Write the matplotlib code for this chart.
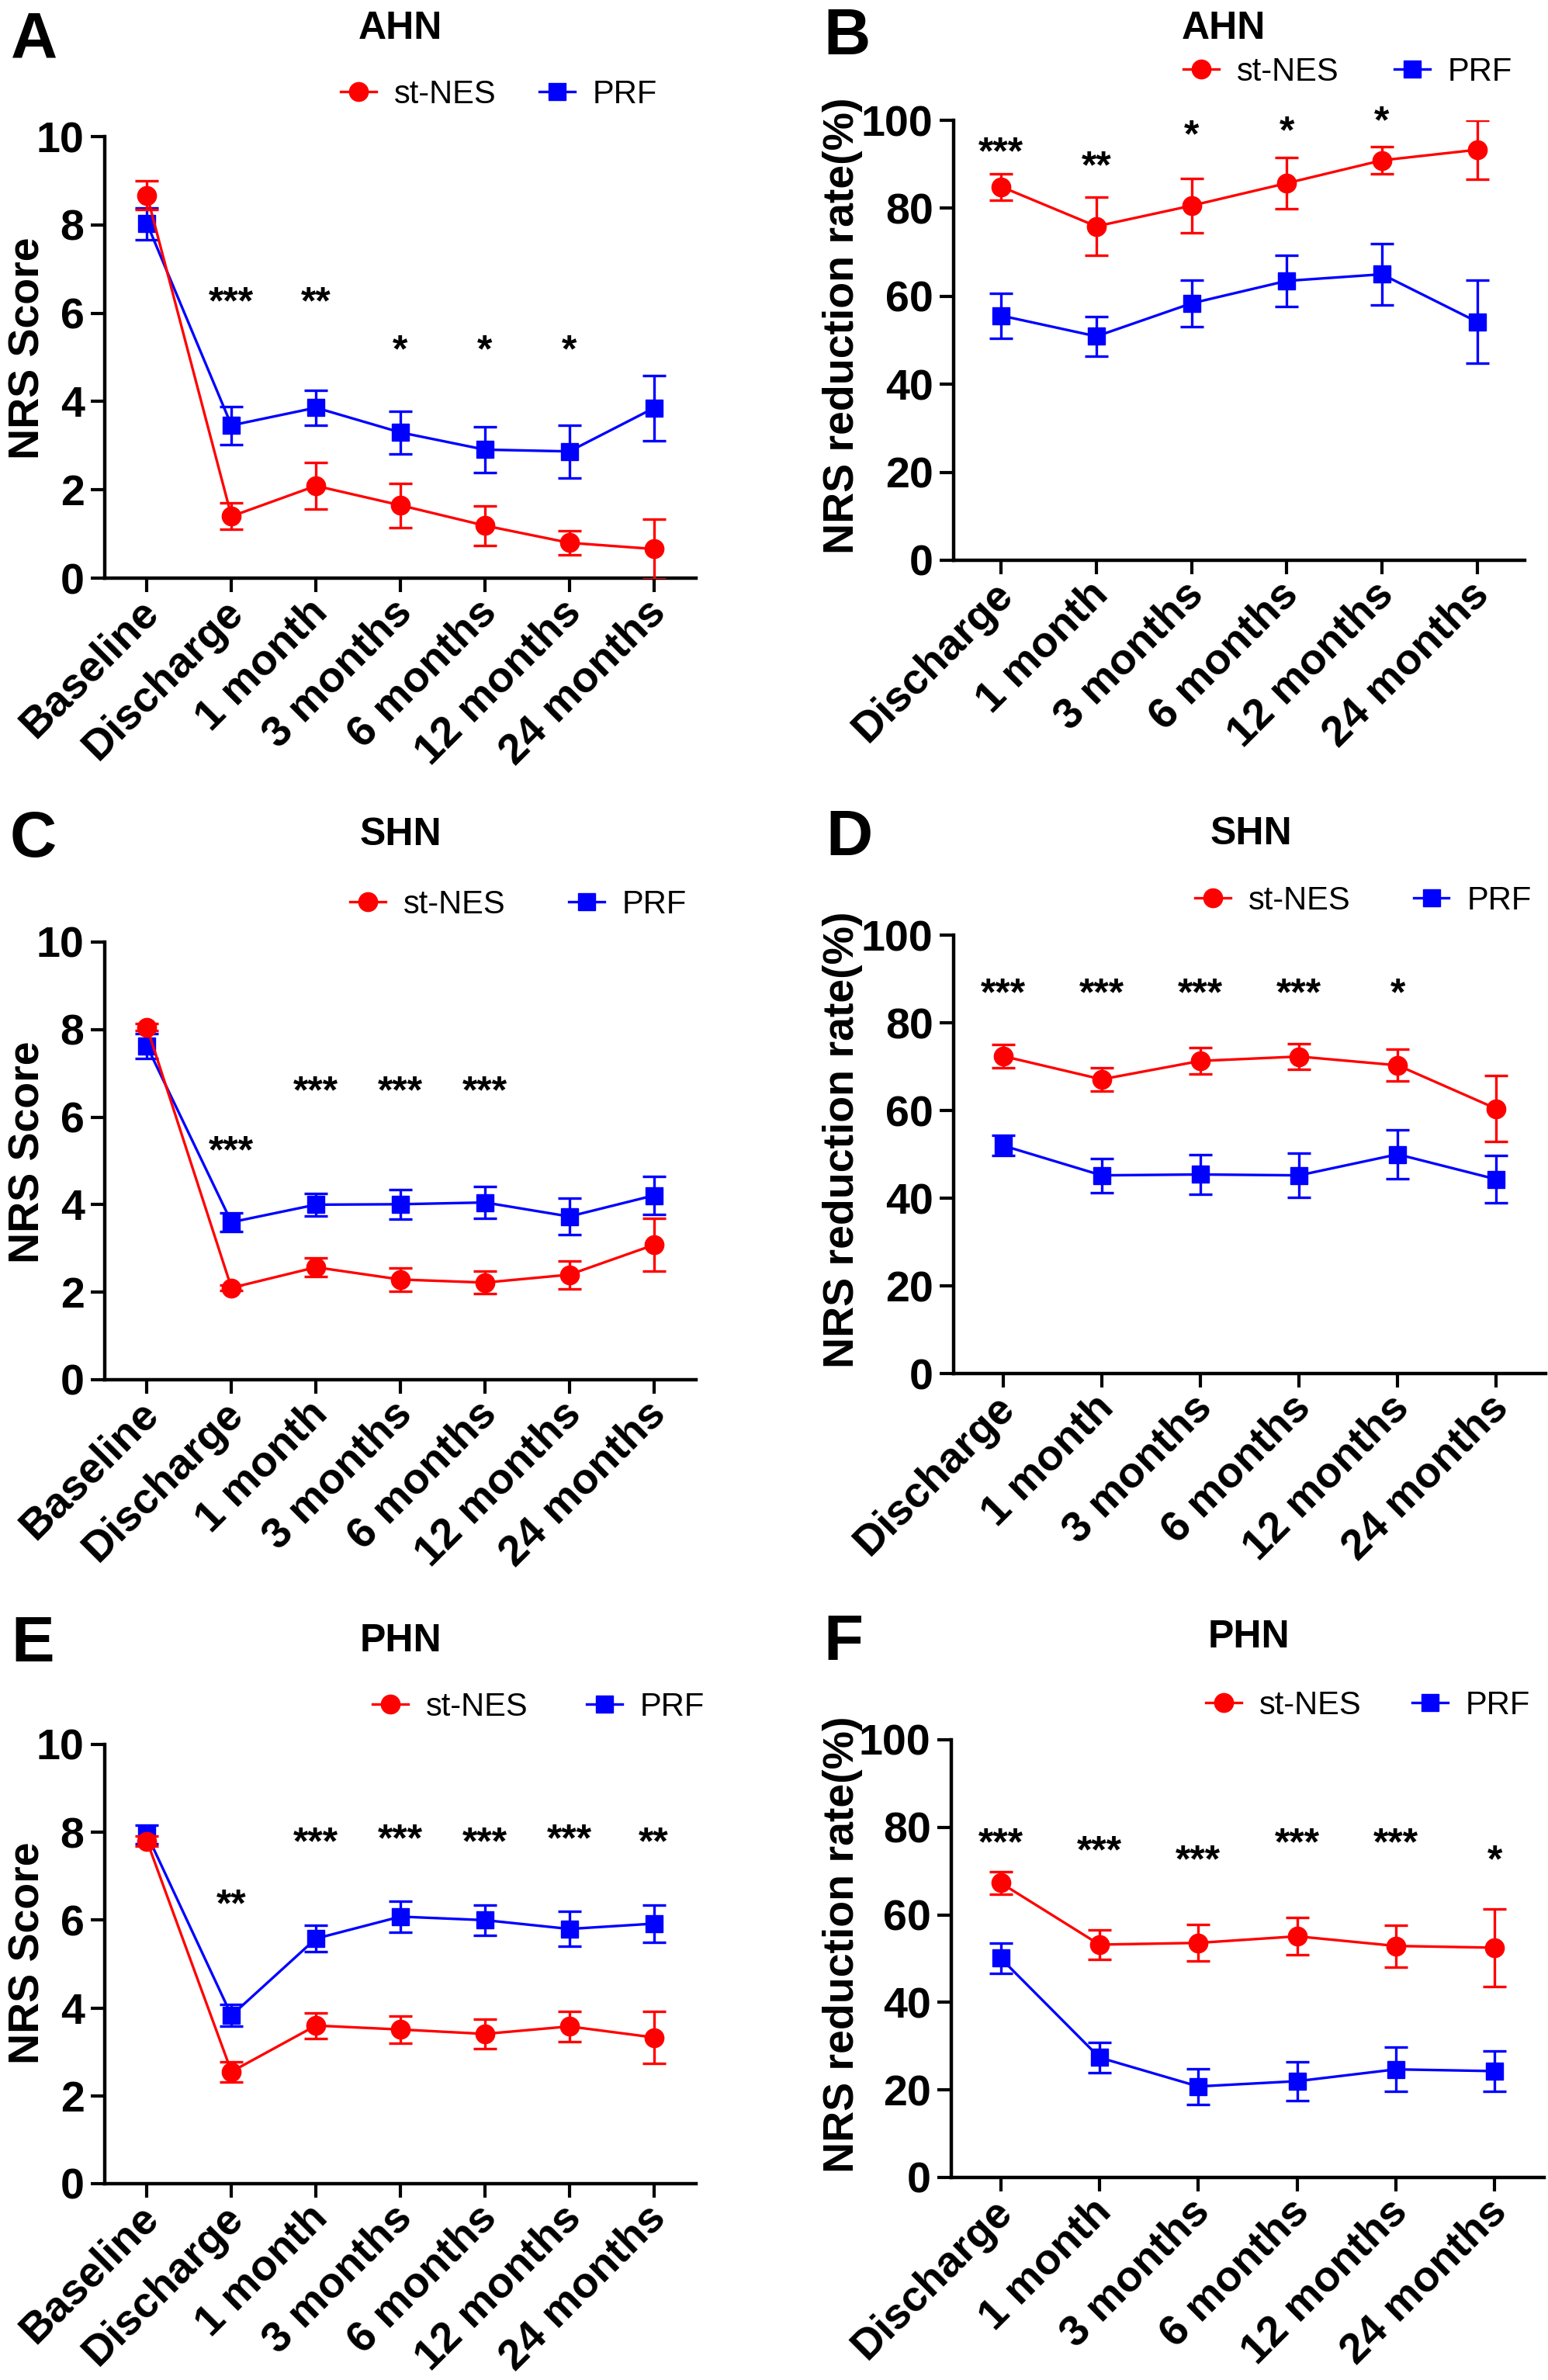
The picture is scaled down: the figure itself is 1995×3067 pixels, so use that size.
import matplotlib
matplotlib.use('Agg')
import matplotlib.pyplot as plt
import matplotlib.transforms as mtransforms

plt.rcParams['font.family'] = ['Liberation Sans', 'DejaVu Sans']

# ---- data -------------------------------------------------------------
score_labels = ['Baseline', 'Discharge', '1 month', '3 months', '6 months', '12 months', '24 months']
rate_labels = score_labels[1:]

# A: AHN, NRS score
ahn_score_nes = [8.67, 1.40, 2.09, 1.65, 1.19, 0.80, 0.66]
ahn_score_nes_err = [0.33, 0.30, 0.53, 0.50, 0.45, 0.28, 0.67]
ahn_score_prf = [8.03, 3.46, 3.86, 3.30, 2.91, 2.87, 3.85]
ahn_score_prf_err = [0.36, 0.43, 0.40, 0.48, 0.52, 0.60, 0.74]
ahn_score_sig = ['', '***', '**', '*', '*', '*', '']
ahn_score_sig_y = [0, 6.5, 6.5, 5.4, 5.4, 5.4, 0]

# B: AHN, reduction rate
ahn_rate_nes = [84.9, 75.9, 80.6, 85.7, 90.9, 93.3]
ahn_rate_nes_err = [3.0, 6.6, 6.2, 5.8, 3.1, 6.7]
ahn_rate_prf = [55.6, 50.9, 58.4, 63.5, 65.0, 54.2]
ahn_rate_prf_err = [5.1, 4.5, 5.3, 5.9, 7.0, 9.4]
ahn_rate_sig = ['***', '**', '*', '*', '*', '']
ahn_rate_sig_y = [95.1, 92.0, 99.1, 99.9, 102.3, 0]

# C: SHN, NRS score
shn_score_nes = [8.05, 2.10, 2.57, 2.29, 2.22, 2.40, 3.08]
shn_score_nes_err = [0.08, 0.06, 0.22, 0.26, 0.26, 0.32, 0.60]
shn_score_prf = [7.62, 3.60, 4.00, 4.01, 4.05, 3.73, 4.21]
shn_score_prf_err = [0.28, 0.21, 0.26, 0.34, 0.37, 0.42, 0.44]
shn_score_sig = ['', '***', '***', '***', '***', '', '']
shn_score_sig_y = [0, 5.48, 6.84, 6.84, 6.84, 0, 0]

# D: SHN, reduction rate
shn_rate_nes = [72.4, 67.1, 71.3, 72.3, 70.3, 60.4]
shn_rate_nes_err = [2.7, 2.6, 3.0, 3.0, 3.6, 7.5]
shn_rate_prf = [52.0, 45.2, 45.4, 45.2, 50.0, 44.3]
shn_rate_prf_err = [2.3, 3.9, 4.5, 5.0, 5.6, 5.4]
shn_rate_sig = ['***', '***', '***', '***', '*', '']
shn_rate_sig_y = [89.2, 89.2, 89.2, 89.2, 89.2, 0]

# E: PHN, NRS score
phn_score_nes = [7.80, 2.55, 3.60, 3.51, 3.41, 3.58, 3.33]
phn_score_nes_err = [0.12, 0.23, 0.29, 0.31, 0.33, 0.35, 0.60]
phn_score_prf = [7.95, 3.83, 5.58, 6.08, 6.00, 5.80, 5.92]
phn_score_prf_err = [0.22, 0.25, 0.30, 0.35, 0.35, 0.40, 0.43]
phn_score_sig = ['', '**', '***', '***', '***', '***', '**']
phn_score_sig_y = [0, 6.6, 8.02, 8.08, 8.02, 8.08, 8.02]

# F: PHN, reduction rate
phn_rate_nes = [67.3, 53.2, 53.6, 55.1, 52.9, 52.5]
phn_rate_nes_err = [2.5, 3.4, 4.2, 4.3, 4.8, 8.8]
phn_rate_prf = [50.1, 27.4, 20.8, 22.0, 24.7, 24.3]
phn_rate_prf_err = [3.4, 3.5, 4.1, 4.5, 5.1, 4.6]
phn_rate_sig = ['***', '***', '***', '***', '***', '*']
phn_rate_sig_y = [78.8, 77.0, 75.0, 78.8, 78.8, 75.0]

# ---- layout (pixels of the 1995x3067 canvas) ----------------------------
W, H = 1995, 3067
RED = '#ff0000'
BLUE = '#0000ff'
SIG_FS = 36

fig = plt.figure(figsize=(W / 100, H / 100), dpi=100)

# nudge the rotated x labels so their ends sit under the ticks
label_shift = mtransforms.ScaledTranslation(-8 / 72, 6 / 72, fig.dpi_scale_trans)


def px_rect(left, top, right, bottom):
    return [left / W, 1 - bottom / H, (right - left) / W, (bottom - top) / H]


def draw_panel(rect, labels, nes, nes_err, prf, prf_err, sig, sig_y, ymax,
               ylabel, ylabel_xy, letter, letter_xy, title, title_xy,
               legend_xy, colspace):
    ax = fig.add_axes(px_rect(*rect))
    x = list(range(len(labels)))

    ax.errorbar(x, prf, yerr=prf_err, fmt='none', ecolor=BLUE,
                elinewidth=2.4, capsize=11, capthick=2.4, zorder=2)
    ax.plot(x, prf, '-s', color=BLUE, lw=2.4, ms=16.5, label='PRF', zorder=3)
    ax.errorbar(x, nes, yerr=nes_err, fmt='none', ecolor=RED,
                elinewidth=2.4, capsize=11, capthick=2.4, zorder=4)
    ax.plot(x, nes, '-o', color=RED, lw=2.4, ms=17.5, label='st-NES', zorder=5)

    for xi, s, yi in zip(x, sig, sig_y):
        if s:
            ax.annotate(s, (xi, yi), xytext=(0, -0.58 * SIG_FS),
                        textcoords='offset points', ha='center', va='baseline',
                        fontsize=SIG_FS, fontweight='bold', annotation_clip=False)

    ax.set_xlim(-0.5, len(labels) - 0.5)
    ax.set_ylim(0, ymax)
    ax.set_yticks([ymax * i / 5 for i in range(6)])
    ax.set_yticklabels([f'{ymax * i // 5}' for i in range(6)])
    ax.set_xticks(x)
    ax.set_xticklabels(labels, rotation=45, ha='right', rotation_mode='anchor')

    for side in ['top', 'right']:
        ax.spines[side].set_visible(False)
    for side in ['left', 'bottom']:
        ax.spines[side].set_linewidth(3.2)
    ax.tick_params(axis='both', direction='out', length=13, width=3,
                   labelsize=40, pad=6)
    for t in ax.get_xticklabels() + ax.get_yticklabels():
        t.set_fontweight('bold')
    for t in ax.get_xticklabels():
        t.set_transform(t.get_transform() + label_shift)

    ax.set_ylabel(ylabel, fontsize=40, fontweight='bold')
    ax.yaxis.set_label_coords(ylabel_xy[0] / W, 1 - ylabel_xy[1] / H,
                              transform=fig.transFigure)

    h, l = ax.get_legend_handles_labels()
    ax.legend(h[::-1], l[::-1], loc='center', ncol=2, frameon=False, fontsize=30,
              bbox_to_anchor=(legend_xy[0] / W, 1 - legend_xy[1] / H),
              bbox_transform=fig.transFigure, handlelength=1.1,
              handletextpad=0.55, columnspacing=colspace, borderpad=0)

    fig.text(letter_xy[0] / W, 1 - letter_xy[1] / H, letter, fontsize=60,
             fontweight='bold', ha='left', va='baseline')
    fig.text(title_xy[0] / W, 1 - title_xy[1] / H, title, fontsize=36,
             fontweight='bold', ha='center', va='baseline')
    return ax


score_axis = 'NRS Score'
rate_axis = 'NRS reduction rate(%)'

draw_panel((135, 176, 897, 745), score_labels, ahn_score_nes, ahn_score_nes_err,
           ahn_score_prf, ahn_score_prf_err, ahn_score_sig, ahn_score_sig_y, 10,
           score_axis, (63, 449), 'A', (14, 74), 'AHN', (516, 50), (643, 122), 1.34)
draw_panel((1229, 155, 1965, 722), rate_labels, ahn_rate_nes, ahn_rate_nes_err,
           ahn_rate_prf, ahn_rate_prf_err, ahn_rate_sig, ahn_rate_sig_y, 100,
           rate_axis, (1112, 420), 'B', (1061, 70), 'AHN', (1577, 50), (1737, 93), 1.73)
draw_panel((135, 1214, 897, 1778), score_labels, shn_score_nes, shn_score_nes_err,
           shn_score_prf, shn_score_prf_err, shn_score_sig, shn_score_sig_y, 10,
           score_axis, (63, 1485), 'C', (13, 1104), 'SHN', (516, 1089), (668, 1166), 1.97)
draw_panel((1229, 1205, 1992, 1770), rate_labels, shn_rate_nes, shn_rate_nes_err,
           shn_rate_prf, shn_rate_prf_err, shn_rate_sig, shn_rate_sig_y, 100,
           rate_axis, (1112, 1469), 'D', (1064, 1102), 'SHN', (1612, 1088), (1757, 1161), 1.94)
draw_panel((135, 2248, 897, 2814), score_labels, phn_score_nes, phn_score_nes_err,
           phn_score_prf, phn_score_prf_err, phn_score_sig, phn_score_sig_y, 10,
           score_axis, (63, 2517), 'E', (14, 2141), 'PHN', (516, 2128), (694, 2200), 1.82)
draw_panel((1226, 2242, 1990, 2806), rate_labels, phn_rate_nes, phn_rate_nes_err,
           phn_rate_prf, phn_rate_prf_err, phn_rate_sig, phn_rate_sig_y, 100,
           rate_axis, (1112, 2506), 'F', (1061, 2139), 'PHN', (1609, 2123), (1763, 2198), 1.58)

fig.savefig('out.png', dpi=100)
